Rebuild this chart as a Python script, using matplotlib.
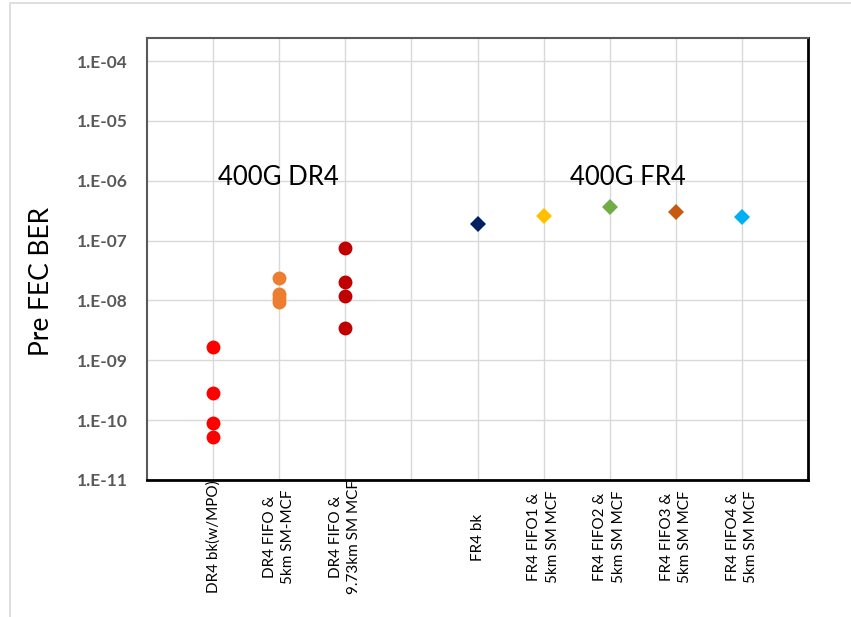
import matplotlib
matplotlib.use("Agg")
import matplotlib.pyplot as plt
from matplotlib.patches import Rectangle
import numpy as np

plt.rcParams['font.family'] = ['Lato', 'DejaVu Sans']

categories = ["DR4 bk(w/MPO)", "DR4 FIFO &\n5km SM-MCF", "DR4 FIFO &\n9.73km SM MCF", "",
              "FR4 bk", "FR4 FIFO1 &\n5km SM MCF", "FR4 FIFO2 &\n5km SM MCF",
              "FR4 FIFO3 &\n5km SM MCF", "FR4 FIFO4 &\n5km SM MCF"]

dr4_bk = [1.7e-9, 2.8e-10, 9.1e-11, 5.3e-11]
dr4_5km = [2.4e-8, 1.26e-8, 1.08e-8, 9.3e-9]
dr4_973km = [7.6e-8, 2.0e-8, 1.2e-8, 3.4e-9]
fr4_bk = [1.88e-7]
fr4_fifo1 = [2.6e-7]
fr4_fifo2 = [3.7e-7]
fr4_fifo3 = [3.06e-7]
fr4_fifo4 = [2.5e-7]

ytick_vals = [1e-11, 1e-10, 1e-9, 1e-8, 1e-7, 1e-6, 1e-5, 1e-4]
ytick_labels = ["1.E-11", "1.E-10", "1.E-09", "1.E-08", "1.E-07", "1.E-06", "1.E-05", "1.E-04"]

W, H = 851, 617
fig = plt.figure(figsize=(W / 100, H / 100), dpi=100)
fig.patch.set_facecolor('white')
fig.patches.append(Rectangle((10 / W, -0.05), 1.0, (H - 3) / H + 0.05, transform=fig.transFigure,
                             fill=False, edgecolor='#d9d9d9', linewidth=1.2))

ax = fig.add_axes([147 / W, (H - 480) / H, (808 - 147) / W, (480 - 38) / H])
ax.set_yscale('log')
ax.set_ylim(1e-11, 10 ** -3.615)
ax.set_xlim(0, 10)

series = [
    (1, dr4_bk, 'o', '#FF0000', 10),
    (2, dr4_5km, 'o', '#ED7D31', 10),
    (3, dr4_973km, 'o', '#C00000', 10),
    (5, fr4_bk, 'D', '#002060', 8.5),
    (6, fr4_fifo1, 'D', '#FFC000', 8.5),
    (7, fr4_fifo2, 'D', '#70AD47', 8.5),
    (8, fr4_fifo3, 'D', '#C55A11', 8.5),
    (9, fr4_fifo4, 'D', '#00B0F0', 8.5),
]
for x, vals, m, c, ms in series:
    ax.plot([x] * len(vals), vals, linestyle='none', marker=m, color=c,
            markersize=ms, markeredgewidth=0, zorder=3)

ax.set_yticks(ytick_vals)
ax.set_yticklabels(ytick_labels)
ax.yaxis.set_minor_locator(matplotlib.ticker.NullLocator())
for lab in ax.get_yticklabels():
    lab.set_fontweight('bold')
    lab.set_color('#595959')
    lab.set_fontsize(12.5)

ax.set_xticks(np.arange(1, 10))
ax.set_xticklabels(categories, rotation=90, va='center', ha='center',
                   multialignment='center', fontsize=11, color='black', linespacing=1.4)
ax.tick_params(axis='x', length=0, pad=41)
ax.tick_params(axis='y', length=0, pad=14)

ax.grid(True, which='major', color='#d9d9d9', linewidth=1)
ax.set_axisbelow(True)

for s in ['top', 'left']:
    ax.spines[s].set_color('#595959')
    ax.spines[s].set_linewidth(1.5)
for s in ['bottom', 'right']:
    ax.spines[s].set_color('black')
    ax.spines[s].set_linewidth(2)

ax.set_ylabel("Pre FEC BER", fontsize=19, color='black')
ax.yaxis.set_label_coords(-0.140, 0.45)

ax.text(1.99, 10 ** -5.95, "400G DR4", fontsize=18.5, ha='center', va='center')
ax.text(7.27, 10 ** -5.94, "400G FR4", fontsize=18.5, ha='center', va='center')

fig.savefig("out.png", dpi=100)
